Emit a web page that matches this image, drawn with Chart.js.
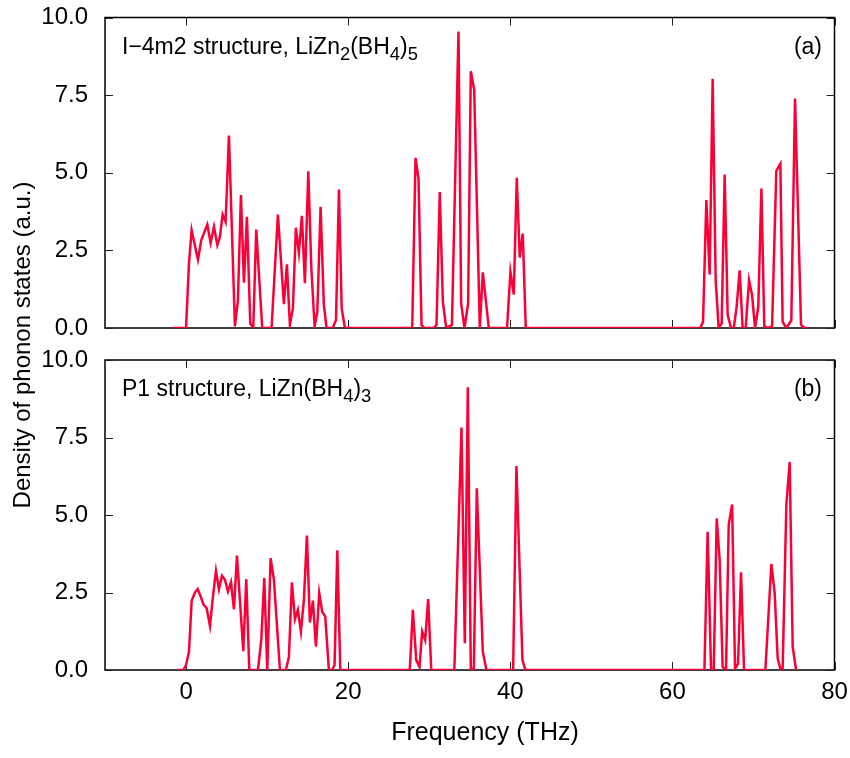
<!DOCTYPE html>
<html>
<head>
<meta charset="utf-8">
<script src="https://cdn.jsdelivr.net/npm/chart.js@4/dist/chart.umd.min.js"></script>
<style>
  html, body { margin: 0; padding: 0; background: #fff; overflow: hidden; }
  #wrap { position: relative; width: 850px; height: 758px; font-family: "Liberation Sans", Arial, Helvetica, sans-serif; color: #000; }
  canvas { position: absolute; left: 0; }
  .txt { position: absolute; white-space: nowrap; line-height: 23px; font-size: 23px; }
  .sub { font-size: 0.8em; position: relative; top: 6px; }
</style>
</head>
<body>
<div id="wrap">
  <canvas id="cTop" width="850" height="340" style="top:0px;width:850px;height:340px"></canvas>
  <canvas id="cBot" width="850" height="418" style="top:340px;width:850px;height:418px"></canvas>
  <div class="txt" style="left:122px;top:35px">I−4m2 structure, LiZn<span class="sub">2</span>(BH<span class="sub">4</span>)<span class="sub">5</span></div>
  <div class="txt" style="right:28px;top:35px">(a)</div>
  <div class="txt" style="left:122px;top:377px">P1 structure, LiZn(BH<span class="sub">4</span>)<span class="sub">3</span></div>
  <div class="txt" style="right:28px;top:377px">(b)</div>
  <div class="txt" style="left:-178px;top:333px;width:400px;height:24px;line-height:24px;font-size:24px;text-align:center;transform:rotate(-90deg)">Density of phonon states (a.u.)</div>
  <div class="txt" style="left:285px;top:719px;width:400px;height:25px;line-height:25px;font-size:25px;text-align:center">Frequency (THz)</div>
</div>
<script>
// ---- data ----
const xTicks = [0, 20, 40, 60, 80];
const yTicks = [0.0, 2.5, 5.0, 7.5, 10.0];

const topFreq = [-1.5, 0, 0.36, 0.69, 1.47, 1.88, 2.62, 3.03, 3.44, 3.86, 4.18, 4.51, 4.88, 5.29, 6.03, 6.4, 6.77, 7.14, 7.51, 7.92, 8.29, 8.66, 9.4, 10.55, 11.33, 12.07, 12.44, 12.81, 13.18, 13.55, 13.92, 14.29, 14.66, 15.08, 15.45, 15.86, 16.19, 16.6, 17.0, 17.34, 18.1, 18.5, 18.86, 19.2, 19.6, 27.9, 28.31, 28.68, 29.05, 29.4, 30.57, 30.9, 31.3, 31.68, 32.1, 32.8, 33.61, 33.94, 34.35, 34.8, 35.13, 35.55, 36.24, 36.61, 37.35, 39.6, 40.02, 40.43, 40.8, 41.17, 41.54, 41.91, 63.45, 63.78, 64.19, 64.6, 64.97, 65.34, 65.71, 66.08, 66.45, 66.82, 67.24, 67.57, 67.93, 68.3, 68.67, 69.04, 69.46, 69.83, 70.2, 70.6, 70.98, 71.34, 71.76, 72.3, 72.82, 73.32, 73.6, 74.06, 74.67, 75.13, 75.87, 76.28, 76.8];
const topDos = [0, 0, 2.08, 3.15, 2.2, 2.83, 3.33, 2.74, 3.26, 2.67, 2.94, 3.65, 3.42, 6.2, 0.05, 0.9, 4.28, 1.46, 3.58, 0.15, 0, 3.17, 0, 0, 3.65, 0.77, 2.05, 0.1, 0.63, 3.23, 2.43, 3.61, 1.44, 5.05, 1.97, 0.05, 0.52, 3.9, 0.74, 0, 0, 0.26, 4.46, 0.63, 0, 0, 5.48, 4.81, 0.1, 0, 0, 0.1, 4.38, 0.85, 0, 0.1, 9.55, 0.79, 0, 0.79, 8.27, 7.67, 0, 1.79, 0, 0, 1.81, 1.08, 4.84, 2.27, 3.04, 0, 0, 0.2, 4.12, 1.72, 8.03, 1.54, 0, 0.15, 4.94, 0.42, 0, 0, 0.69, 1.86, 0, 0, 1.54, 1.06, 0, 0.69, 4.49, 0.05, 0, 0.05, 5.06, 5.29, 0.2, 0, 0.24, 7.39, 0.1, 0, 0];

const botFreq = [-1.07, -0.33, 0, 0.36, 0.69, 1.06, 1.43, 1.8, 2.17, 2.54, 2.95, 3.32, 3.69, 4.06, 4.43, 4.8, 5.17, 5.54, 5.91, 6.28, 7.06, 7.43, 7.8, 8.87, 9.28, 9.65, 10.02, 10.43, 10.84, 11.58, 12.32, 12.69, 13.06, 13.43, 13.8, 14.17, 14.54, 14.91, 15.28, 15.65, 16.02, 16.43, 16.8, 17.17, 17.62, 17.99, 18.32, 18.66, 19.03, 27.6, 27.98, 28.4, 28.8, 29.13, 29.5, 29.87, 30.25, 33.1, 33.98, 34.39, 34.76, 35.13, 35.5, 35.87, 36.61, 37.06, 40.35, 40.76, 41.5, 41.87, 63.95, 64.35, 64.77, 65.1, 65.47, 65.83, 66.2, 66.62, 66.95, 67.37, 67.73, 68.1, 68.47, 68.84, 71.47, 72.21, 72.62, 72.99, 73.36, 73.6, 74.06, 74.47, 74.84, 75.26];
const botDos = [0, 0, 0.16, 0.59, 2.23, 2.48, 2.61, 2.37, 2.1, 2.0, 1.42, 2.37, 3.2, 2.61, 3.04, 2.91, 2.53, 2.83, 1.96, 3.69, 0.61, 2.93, 0, 0, 0.97, 2.97, 0, 3.61, 2.91, 0, 0, 0.43, 2.83, 1.64, 1.94, 1.24, 2.27, 4.34, 1.53, 2.24, 0.75, 2.48, 1.87, 1.73, 0, 0, 0.16, 3.86, 0, 0, 1.94, 0.32, 0.1, 1.24, 0.97, 2.29, 0, 0, 7.82, 0.86, 9.12, 0.05, 0, 5.86, 0.59, 0, 0, 6.58, 0.32, 0, 0, 4.46, 0, 0, 4.89, 3.56, 0.1, 0, 4.69, 5.34, 0.05, 0.2, 3.15, 0, 0, 3.42, 2.48, 0.38, 0, 0, 5.34, 6.71, 0.75, 0];

// ---- drawing ----
const LINE_COLOR = 'rgb(250,0,55)';
const FONT = '"Liberation Sans", Arial, Helvetica, sans-serif';

const framePlugin = {
  id: 'frame',
  beforeDatasetsDraw(chart) {
    const { ctx, chartArea: a, scales } = chart;
    ctx.save();
    ctx.strokeStyle = '#000';
    ctx.lineWidth = 1.5;
    ctx.strokeRect(a.left, a.top, a.right - a.left, a.bottom - a.top);
    ctx.lineWidth = 1;
    ctx.strokeStyle = '#222';
    const L = 8;
    ctx.beginPath();
    scales.x.ticks.forEach(t => {
      const px = Math.round(scales.x.getPixelForValue(t.value)) + 0.5;
      ctx.moveTo(px, a.bottom); ctx.lineTo(px, a.bottom - L);
      ctx.moveTo(px, a.top); ctx.lineTo(px, a.top + L);
    });
    scales.y.ticks.forEach(t => {
      const py = Math.round(scales.y.getPixelForValue(t.value)) + 0.5;
      ctx.moveTo(a.left, py); ctx.lineTo(a.left + L, py);
      ctx.moveTo(a.right, py); ctx.lineTo(a.right - L, py);
    });
    ctx.stroke();
    ctx.restore();
  }
};

function zeroPad(s) { s.paddingTop = 0; s.paddingBottom = 0; s.paddingLeft = 0; s.paddingRight = 0; }

function makePanel(id, freq, dos, opts) {
  const pts = freq.map((f, i) => ({ x: f, y: dos[i] }));
  return new Chart(document.getElementById(id), {
    type: 'line',
    data: { datasets: [{ data: pts, borderColor: LINE_COLOR, borderWidth: 2.5, pointRadius: 0, tension: 0, fill: false }] },
    options: {
      responsive: false,
      animation: false,
      devicePixelRatio: 1,
      layout: { padding: { top: opts.padTop, right: 15.5, left: 0, bottom: 0 } },
      plugins: { legend: { display: false }, tooltip: { enabled: false } },
      scales: {
        x: {
          type: 'linear', min: -10, max: 80,
          afterBuildTicks: s => { s.ticks = xTicks.map(v => ({ value: v })); },
          ticks: { display: opts.showX, includeBounds: false, stepSize: 20, color: '#000', font: { family: FONT, size: 24 }, padding: 8, maxRotation: 0 },
          grid: { display: false, drawTicks: false },
          border: { display: false },
          afterFit: s => { s.height = opts.xHeight; zeroPad(s); }
        },
        y: {
          min: 0, max: 10,
          afterBuildTicks: s => { s.ticks = yTicks.map(v => ({ value: v })); },
          ticks: { color: '#000', font: { family: FONT, size: 24 }, padding: 17, callback: v => Number(v).toFixed(1) },
          grid: { display: false, drawTicks: false },
          border: { display: false },
          afterFit: s => { s.width = 105; zeroPad(s); }
        }
      }
    },
    plugins: [framePlugin]
  });
}

makePanel('cTop', topFreq, topDos, { padTop: 17.5, xHeight: 12, showX: false });
makePanel('cBot', botFreq, botDos, { padTop: 20, xHeight: 88, showX: true });
</script>
</body>
</html>
